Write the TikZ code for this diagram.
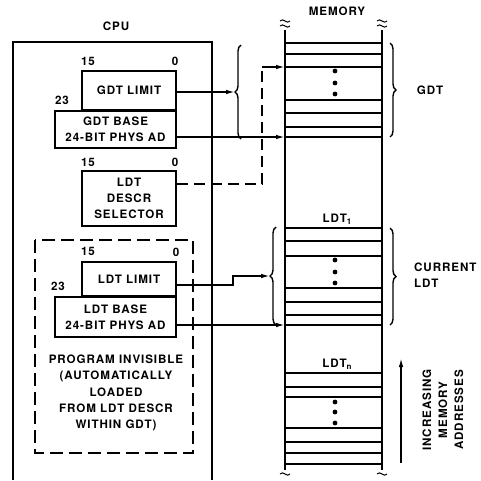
\documentclass[tikz,border=0pt]{standalone}
\usepackage{fontspec}
\setmainfont{TeX Gyre Heros}[LetterSpace=8]
\usetikzlibrary{arrows.meta,decorations.pathreplacing}
\tikzset{
  reg/.style={draw, line width=1.6pt, inner sep=0pt, align=center, minimum width=94pt},
  lbl/.style={inner sep=0pt},
  conn/.style={line width=1.5pt},
  arr/.style={-{Latex[length=9pt,width=4.5pt]}},
  memline/.style={line width=1.7pt},
  brc/.style={decorate, decoration={brace, amplitude=6pt}, line width=1.4pt},
  dbox/.style={line width=1.6pt, dash pattern=on 13pt off 6pt},
  brk/.style={line width=1pt}
}
\begin{document}
\begin{tikzpicture}[x=1pt,y=-1pt, font=\fontsize{11.6}{16}\selectfont\bfseries]
\useasboundingbox (0,0) rectangle (481,480);

% CPU
\node[lbl] (cpu) at (116,26) {CPU};
\draw[line width=1.6pt] (13,480) -- (13,42) -- (212,42) -- (212,480);

% GDT registers
\node[reg, minimum height=39pt] (gl) at (129,90.5) {GDT LIMIT};
\node[reg, minimum width=121pt, minimum height=37pt] (gb) at (115.5,129.5) {GDT BASE\\24-BIT PHYS AD};
\node[lbl] (g15) at (88,61) {15};
\node[lbl] (g0) at (175,61) {0};
\node[lbl] (g23) at (62,100) {23};

% LDT selector
\node[reg, minimum height=55pt] (ls) at (129,198.5) {LDT\\DESCR\\SELECTOR};
\node[lbl] (s15) at (88,162) {15};
\node[lbl] (s0) at (175,162) {0};

% invisible part
\draw[dbox] (35,240) rectangle (193,453);
\node[reg, minimum height=34pt] (ll) at (129,279) {LDT LIMIT};
\node[reg, minimum width=121pt, minimum height=40pt] (lb) at (115.5,317) {LDT BASE\\24-BIT PHYS AD};
\node[lbl] (l15) at (88,251) {15};
\node[lbl] (l0) at (176,252) {0};
\node[lbl] (l23) at (58,286) {23};
\node[lbl, align=center, font=\fontsize{11.6}{16.3}\selectfont\bfseries] (inv) at (116,393) {PROGRAM INVISIBLE\\(AUTOMATICALLY\\LOADED\\FROM LDT DESCR\\WITHIN GDT)};

% memory
\node[lbl] (mem) at (337,11) {MEMORY};
\draw[memline] (285,30) -- (285,470);
\draw[memline] (382,30) -- (382,470);
\foreach \y in {43,54,67,100,113,127,137,228,241,256,288,302,315,325,373,387,397,428,442,453,464}
  \draw[memline] (285,\y) -- (382,\y);
\foreach \y in {71,83,94,260,272,283,402,412,423}
  \fill (335,\y) circle (2.4pt);
% break marks
\foreach \x in {285,382} {
  \draw[brk] (\x-5,21) .. controls (\x-2,17) and (\x+2,25) .. (\x+5,21);
  \draw[brk] (\x-5,26) .. controls (\x-2,22) and (\x+2,30) .. (\x+5,26);
  \draw[brk] (\x-5,474) .. controls (\x-2,470) and (\x+2,478) .. (\x+5,474);
}
\node[lbl] (ldt1) at (337,219) {LDT{\fontsize{8}{8}\selectfont\raisebox{-2pt}{1}}};
\node[lbl] (ldtn) at (337,364) {LDT{\fontsize{8}{8}\selectfont\raisebox{-2pt}{n}}};

% braces
\draw[brc] (241,139) -- (241,45);
\draw[brc] (390,43) -- (390,137);
\draw[brc] (276,325) -- (276,227);
\draw[brc] (390,228) -- (390,325);
\node[lbl] (gdt) at (430,90) {GDT};
\node[lbl, anchor=west, align=left] (cur) at (414,275) {CURRENT\\LDT};

% connectors
\coordinate (gtip) at (235,92);
\coordinate (gbend) at (285,137);
\coordinate (dtop) at (262,67);
\coordinate (gdt3) at (285,67);
\coordinate (lk) at (233,276);
\coordinate (ltip) at (270,276);
\coordinate (lbend) at (285,325);
\draw[conn,arr] ([yshift=-1.5pt]gl.east) -- (gtip);
\draw[conn,arr] ([yshift=-7.5pt]gb.east) -- (gbend);
\draw[conn, dash pattern=on 11pt off 6pt] ([yshift=14.5pt]ls.east) -| (dtop);
\draw[conn,arr] (dtop) -- (gdt3);
\draw[conn,arr] ([yshift=-6pt]ll.east) -| (lk) -- (ltip);
\draw[conn,arr] ([yshift=-8pt]lb.east) -- (lbend);

% increasing addresses
\coordinate (ab) at (401,463);
\coordinate (at) at (401,358);
\draw[conn,arr] (ab) -- (at);
\node[lbl, rotate=90, align=center] (inc) at (443,410) {INCREASING\\MEMORY\\ADDRESSES};
\end{tikzpicture}
\end{document}
